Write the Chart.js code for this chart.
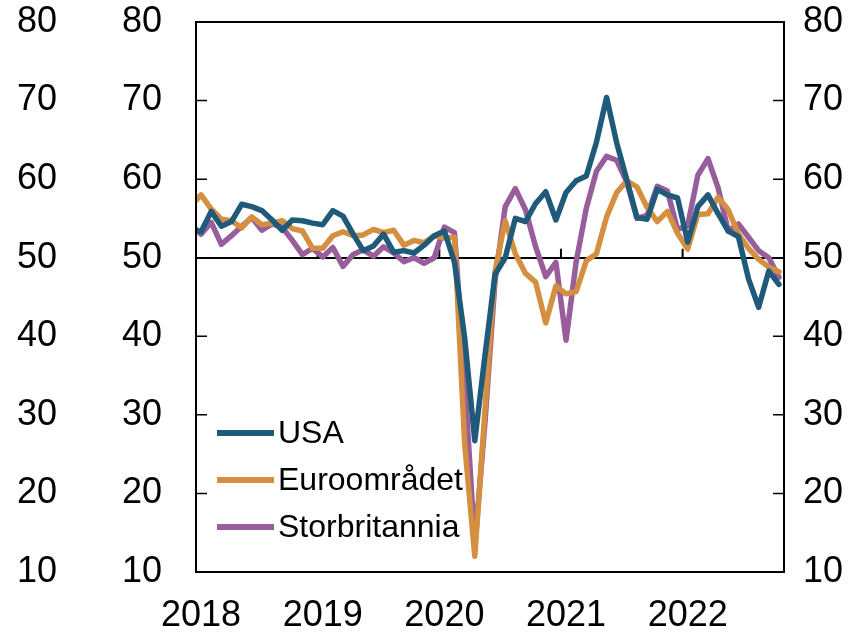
<!DOCTYPE html>
<html>
<head>
<meta charset="utf-8">
<title>PMI tjenester</title>
<script src="https://cdn.jsdelivr.net/npm/chart.js@4.4.0/dist/chart.umd.min.js"></script>
<style>
  html, body { margin: 0; padding: 0; background: #fff; }
</style>
</head>
<body>
<canvas id="pmiChart" width="865" height="633"></canvas>
<script>
// Monthly data, Dec 2017 - Oct 2022 (first point sits just outside the plot)
const months = [];
for (let yr = 2017; yr <= 2022; yr++) {
    for (let m = 1; m <= 12; m++) {
        if ((yr === 2017 && m < 12) || (yr === 2022 && m > 10)) continue;
        months.push(yr + '-' + String(m).padStart(2, '0'));
    }
}
const yearLabels = ['2018', '2019', '2020', '2021', '2022'];
const yTicks = [10, 20, 30, 40, 50, 60, 70, 80];

const usa = [53.7,
    53.3, 55.9, 54.0, 54.6, 56.8, 56.5, 56.0, 54.8, 53.5, 54.8, 54.7, 54.4,
    54.2, 56.0, 55.3, 53.0, 50.9, 51.5, 53.0, 50.7, 50.9, 50.6, 51.6, 52.8,
    53.4, 49.4, 39.8, 26.7, 37.5, 47.9, 50.0, 55.0, 54.6, 56.9, 58.4, 54.8,
    58.3, 59.8, 60.4, 64.7, 70.4, 64.6, 59.9, 55.1, 54.9, 58.7, 58.0, 57.6,
    52.0, 56.5, 58.0, 55.6, 53.4, 52.7, 47.3, 43.7, 48.3, 46.6];
const euro = [56.6,
    58.0, 56.2, 54.9, 54.7, 53.8, 55.2, 54.2, 54.4, 54.7, 53.7, 53.4, 51.2,
    51.2, 52.8, 53.3, 52.8, 52.9, 53.6, 53.2, 53.5, 51.6, 52.2, 51.9, 52.8,
    52.5, 52.6, 26.4, 12.0, 30.5, 48.3, 54.7, 50.5, 48.0, 46.9, 41.7, 46.4,
    45.4, 45.7, 49.6, 50.5, 55.2, 58.3, 59.8, 59.0, 56.4, 54.6, 55.9, 53.1,
    51.1, 55.5, 55.6, 57.7, 56.1, 53.0, 51.2, 49.8, 48.8, 48.2];
const uk = [54.2,
    53.0, 54.5, 51.7, 52.8, 54.0, 55.1, 53.5, 54.3, 53.9, 52.2, 50.4, 51.2,
    50.1, 51.3, 48.9, 50.4, 51.0, 50.2, 51.4, 50.6, 49.5, 50.0, 49.3, 50.0,
    53.9, 53.2, 34.5, 13.4, 29.0, 47.1, 56.5, 58.8, 56.1, 51.4, 47.6, 49.4,
    39.5, 49.5, 56.3, 61.0, 62.9, 62.4, 59.6, 55.0, 55.4, 59.1, 58.5, 53.6,
    54.1, 60.5, 62.6, 58.9, 53.4, 54.3, 52.6, 50.9, 50.0, 47.5];

// month index: Jan 2018 = 0
const toPoints = arr => arr.map((v, i) => ({ x: i - 1, y: v }));

Chart.defaults.font.family = '"Liberation Sans", Arial, sans-serif';
Chart.defaults.color = '#000';

const framePlugin = {
    id: 'frame',
    beforeDatasetsDraw(chart) {
        const { ctx, chartArea: a, scales } = chart;
        const y50 = scales.y.getPixelForValue(50);
        ctx.save();
        ctx.strokeStyle = '#000';
        // year boundary ticks on the 50 line
        ctx.lineWidth = 2;
        yearLabels.forEach((_, i) => {
            if (i === 0) return;
            const px = scales.x.getPixelForValue(i * 12 - 0.5);
            ctx.beginPath();
            ctx.moveTo(px, y50);
            ctx.lineTo(px, y50 - 9);
            ctx.stroke();
        });
        // inward ticks on both spines
        ctx.lineWidth = 1.5;
        yTicks.forEach(v => {
            const py = scales.y.getPixelForValue(v);
            ctx.beginPath();
            ctx.moveTo(a.left, py);
            ctx.lineTo(a.left + 11, py);
            ctx.moveTo(a.right, py);
            ctx.lineTo(a.right - 11, py);
            ctx.stroke();
        });
        ctx.restore();
    },
    afterDatasetsDraw(chart) {
        const { ctx, chartArea: a } = chart;
        ctx.save();
        ctx.strokeStyle = '#000';
        ctx.lineWidth = 2;
        ctx.strokeRect(a.left, a.top, a.right - a.left, a.bottom - a.top);
        ctx.restore();
    },
    afterDraw(chart) {
        // legend in lower left corner of the plot
        const { ctx, chartArea: a } = chart;
        const sets = chart.data.datasets;
        ctx.save();
        ctx.font = '32px "Liberation Sans", Arial, sans-serif';
        ctx.textBaseline = 'middle';
        ctx.textAlign = 'left';
        sets.forEach((ds, i) => {
            const ly = a.bottom - 45 - (sets.length - 1 - i) * 47;
            ctx.strokeStyle = ds.borderColor;
            ctx.lineWidth = 6;
            ctx.lineCap = 'butt';
            ctx.beginPath();
            ctx.moveTo(a.left + 21, ly);
            ctx.lineTo(a.left + 78, ly);
            ctx.stroke();
            ctx.fillStyle = '#000';
            ctx.fillText(ds.label, a.left + 82, ly + 1);
        });
        ctx.restore();
    }
};

const yAxis = (position, weight, width, padding, extra) => Object.assign({
    type: 'linear',
    position: position,
    weight: weight,
    min: 10,
    max: 80,
    grid: { display: false, drawTicks: false },
    border: { display: false },
    afterBuildTicks: s => { s.ticks = yTicks.map(v => ({ value: v })); },
    afterFit: s => { s.width = width; s.paddingTop = 0; s.paddingBottom = 0; },
    ticks: { padding: padding, color: '#000', font: { size: 36 } }
}, extra || {});

const ctx = document.getElementById('pmiChart').getContext('2d');
const pmiChart = new Chart(ctx, {
    type: 'line',
    data: {
        datasets: [
            { label: 'USA', data: toPoints(usa), borderColor: '#1f5a7a' },
            { label: 'Euroområdet', data: toPoints(euro), borderColor: '#d48f40' },
            { label: 'Storbritannia', data: toPoints(uk), borderColor: '#985d9b' }
        ]
    },
    options: {
        responsive: false,
        animation: false,
        devicePixelRatio: 1,
        layout: { padding: { top: 22, left: 0, right: 0, bottom: 0 } },
        elements: {
            point: { radius: 0 },
            line: { borderWidth: 5.5, tension: 0, borderJoinStyle: 'round', borderCapStyle: 'round', fill: false }
        },
        plugins: { legend: { display: false }, tooltip: { enabled: false } },
        scales: {
            x: {
                type: 'linear',
                position: 'bottom',
                min: -0.5,
                max: months.length - 1.5,
                grid: { display: false, drawTicks: false },
                border: { display: false },
                afterBuildTicks: s => { s.ticks = yearLabels.map((_, i) => ({ value: i * 12 })); },
                afterFit: s => { s.height = 61; s.paddingLeft = 0; s.paddingRight = 0; },
                ticks: {
                    autoSkip: false,
                    maxRotation: 0,
                    padding: 22,
                    color: '#000',
                    font: { size: 36 },
                    callback: v => yearLabels[v / 12]
                }
            },
            yOuter: yAxis('left', 2, 90, 33),
            y: yAxis('left', 1, 106, 34, {
                grid: {
                    display: true,
                    drawTicks: false,
                    lineWidth: 2,
                    color: c => (c.tick && c.tick.value === 50) ? '#000' : 'rgba(0,0,0,0)'
                }
            }),
            yRight: yAxis('right', 1, 81, 19)
        }
    },
    plugins: [framePlugin]
});
</script>
</body>
</html>
